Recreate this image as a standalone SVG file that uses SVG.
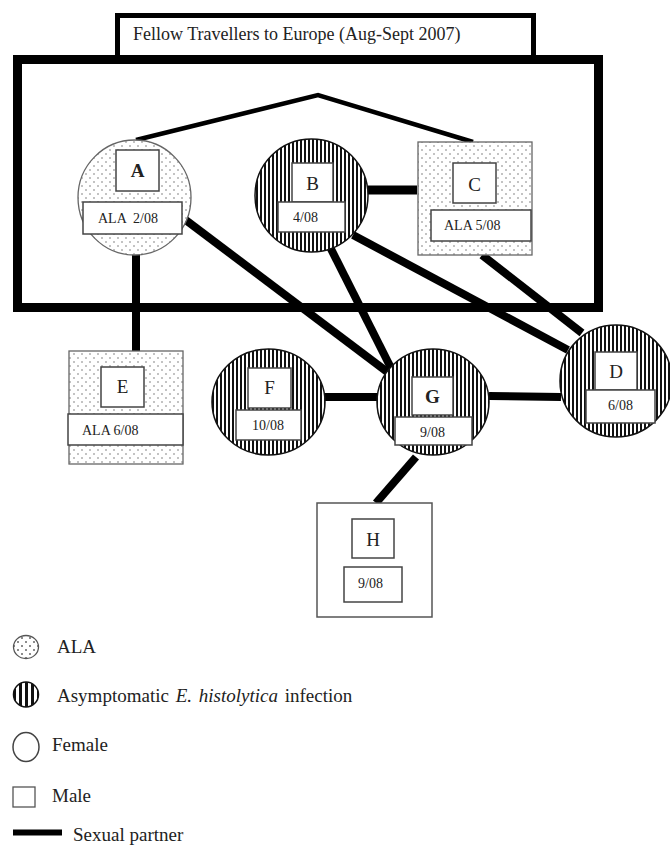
<svg xmlns="http://www.w3.org/2000/svg" width="670" height="855" viewBox="0 0 670 855">
<defs>
<pattern id="dots" patternUnits="userSpaceOnUse" width="8" height="8">
<rect width="8" height="8" fill="#fff"/>
<circle cx="2" cy="2" r="0.8" fill="#777"/>
<circle cx="6" cy="6" r="0.8" fill="#777"/>
</pattern>
<pattern id="stripes" patternUnits="userSpaceOnUse" width="4" height="4">
<rect width="4" height="4" fill="#fff"/>
<rect width="2" height="4" fill="#111"/>
</pattern>
<pattern id="stripesL" patternUnits="userSpaceOnUse" x="1" width="6" height="6">
<rect width="6" height="6" fill="#fff"/>
<rect width="3" height="6" fill="#111"/>
</pattern>
<pattern id="dotsL" patternUnits="userSpaceOnUse" width="8" height="8">
<rect width="8" height="8" fill="#fff"/>
<circle cx="2" cy="2" r="1" fill="#666"/>
<circle cx="6" cy="6" r="1" fill="#666"/>
</pattern>
</defs>
<style>
text{font-family:"Liberation Serif","Times New Roman",serif;fill:#222}
.lbl{font-size:19px;text-anchor:middle}
.dt{font-size:14px}
.box{fill:#fff;stroke:#444;stroke-width:1.5}
.ala{fill:url(#dots);stroke:#666;stroke-width:1.3}
.asx{fill:url(#stripes);stroke:#111;stroke-width:1.5}
.con{stroke:#000;stroke-width:8;fill:none;stroke-linecap:butt}
.leg{font-size:19px}
</style>
<rect width="670" height="855" fill="#fff"/>
<g id="title">
<rect x="117.5" y="15.5" width="416" height="44" fill="#fff" stroke="#000" stroke-width="5"/>
<text x="133" y="40" style="font-size:18px">Fellow Travellers to Europe (Aug-Sept 2007)</text>
</g>
<g id="frame">
<rect x="17.5" y="59.5" width="581" height="248" fill="none" stroke="#000" stroke-width="9"/>
</g>
<g id="connectors">
<polyline class="con" style="stroke-width:4.5" points="136,140 318,95 473,142"/>
<line class="con" x1="136" y1="250" x2="136" y2="351"/>
<line class="con" x1="183" y1="218" x2="390" y2="374"/>
<line class="con" style="stroke-width:9" x1="368" y1="190" x2="417" y2="190"/>
<line class="con" x1="328" y1="243" x2="393" y2="372"/>
<line class="con" x1="353" y1="235" x2="568" y2="350"/>
<line class="con" x1="482" y1="255" x2="582" y2="333"/>
<line class="con" x1="325" y1="397" x2="377" y2="397"/>
<line class="con" x1="489" y1="396" x2="561" y2="397"/>
<line class="con" x1="416" y1="457" x2="376" y2="503"/>
</g>
<g id="nodeA">
<ellipse class="ala" cx="134.5" cy="197.5" rx="56.5" ry="57.5"/>
<rect class="box" x="116" y="150" width="43" height="41"/>
<text class="lbl" x="137.5" y="177" font-weight="bold">A</text>
<rect class="box" x="83" y="202" width="99" height="32"/>
<text class="dt" x="98" y="223" xml:space="preserve">ALA  2/08</text>
</g>
<g id="nodeB">
<ellipse class="asx" cx="311.5" cy="195.5" rx="56.5" ry="56.5"/>
<rect class="box" x="292" y="163" width="41" height="39"/>
<text class="lbl" x="312.5" y="190">B</text>
<rect class="box" x="278" y="202" width="67" height="30"/>
<text class="dt" x="293" y="222">4/08</text>
</g>
<g id="nodeC">
<rect class="ala" x="418" y="142" width="114" height="113"/>
<rect class="box" x="453" y="163" width="43" height="40"/>
<text class="lbl" x="474.5" y="191">C</text>
<rect class="box" x="431" y="210" width="100" height="31"/>
<text class="dt" x="444" y="230">ALA 5/08</text>
</g>
<g id="nodeD">
<ellipse class="asx" cx="616" cy="381" rx="56" ry="56"/>
<rect class="box" x="595" y="352" width="42" height="38"/>
<text class="lbl" x="616" y="378">D</text>
<rect class="box" x="586" y="390" width="69" height="33"/>
<text class="dt" x="608" y="410">6/08</text>
</g>
<g id="nodeE">
<rect class="ala" x="69" y="351" width="114" height="113"/>
<rect class="box" x="101" y="367" width="43" height="40"/>
<text class="lbl" x="122.5" y="393">E</text>
<rect class="box" x="68" y="414" width="115" height="31"/>
<text class="dt" x="82" y="435">ALA 6/08</text>
</g>
<g id="nodeF">
<ellipse class="asx" cx="268.5" cy="402" rx="56.5" ry="53"/>
<rect class="box" x="248" y="368" width="43" height="40"/>
<text class="lbl" x="269.5" y="394">F</text>
<rect class="box" x="236" y="410" width="65" height="30"/>
<text class="dt" x="252" y="430">10/08</text>
</g>
<g id="nodeG">
<ellipse class="asx" cx="433" cy="402" rx="56" ry="53"/>
<rect class="box" x="412" y="377" width="41" height="38"/>
<text class="lbl" x="432.5" y="403" font-weight="bold">G</text>
<rect class="box" x="395" y="417" width="77" height="28"/>
<text class="dt" x="420" y="437">9/08</text>
</g>
<g id="nodeH">
<rect class="box" x="317" y="503" width="115" height="114" style="stroke:#555"/>
<rect class="box" x="352" y="519" width="42" height="39"/>
<text class="lbl" x="373" y="546">H</text>
<rect class="box" x="344" y="567" width="58" height="35"/>
<text class="dt" x="358" y="588">9/08</text>
</g>
<g id="legend">
<ellipse cx="26" cy="647" rx="12.5" ry="11.5" fill="url(#dotsL)" stroke="#555" stroke-width="1.3"/>
<text class="leg" x="57" y="653">ALA</text>
<ellipse cx="26" cy="694.5" rx="12.5" ry="12.5" fill="url(#stripesL)" stroke="#111" stroke-width="1.5"/>
<text class="leg" x="57" y="702" word-spacing="2">Asymptomatic <tspan font-style="italic">E. histolytica</tspan> infection</text>
<ellipse cx="26" cy="747" rx="13" ry="14.5" fill="#fff" stroke="#444" stroke-width="1.5"/>
<text class="leg" x="52" y="751">Female</text>
<rect x="13" y="787" width="22" height="20" fill="#fff" stroke="#555" stroke-width="1.3"/>
<text class="leg" x="52" y="802">Male</text>
<line x1="13" y1="832.5" x2="62" y2="832.5" stroke="#000" stroke-width="6"/>
<text class="leg" x="73" y="841">Sexual partner</text>
</g>
</svg>
